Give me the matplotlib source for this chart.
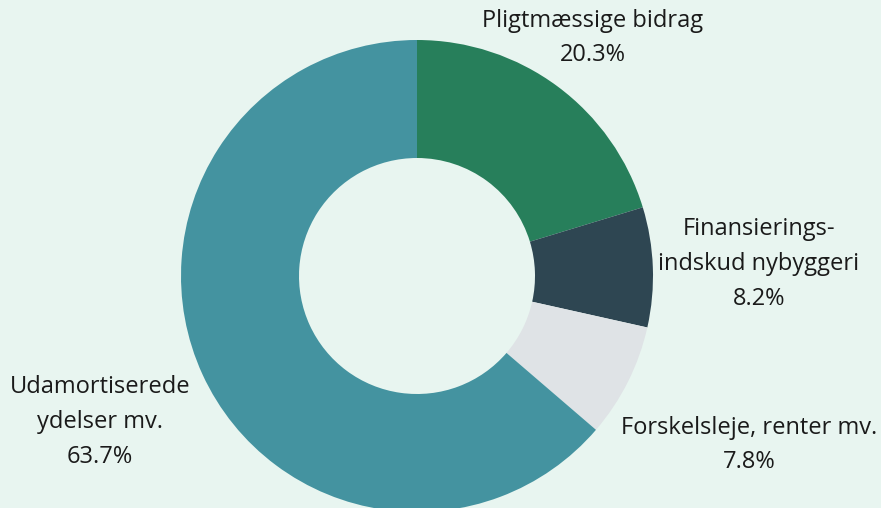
import matplotlib

matplotlib.use("Agg")
import matplotlib.pyplot as plt

labels = ["Pligtmæssige bidrag", "Finansierings-\nindskud nybyggeri", "Forskelsleje, renter mv.", "Udamortiserede\nydelser mv."]
shares = [20.3, 8.2, 7.8, 63.7]
colors = ["#277f5b", "#2e4652", "#dfe3e6", "#4493a0"]
# label anchor (pixel coords, top-left origin), centre of text block
label_pos = [(593, 38), (759, 264), (749, 445), (100, 422)]

W, H = 881, 508
plt.rcParams["font.family"] = ["Open Sans", "DejaVu Sans"]

fig = plt.figure(figsize=(W / 100, H / 100), dpi=100)
fig.patch.set_facecolor("#e8f5f0")
ax = fig.add_axes([0, 0, 1, 1])

ax.pie(
    shares,
    colors=colors,
    startangle=90,
    counterclock=False,
    center=(417, H - 276),
    radius=236,
    wedgeprops=dict(width=118, linewidth=0),
    frame=True,
)
ax.set_xlim(0, W)
ax.set_ylim(0, H)
ax.set_aspect("equal")
ax.axis("off")

for lab, val, (x, y) in zip(labels, shares, label_pos):
    ax.text(x, H - y, f"{lab}\n{val:.1f}%", ha="center", va="center", ma="center",
            fontsize=17, color="#1a1a1a", linespacing=1.6)

fig.savefig("out.png", dpi=100, facecolor=fig.get_facecolor())
